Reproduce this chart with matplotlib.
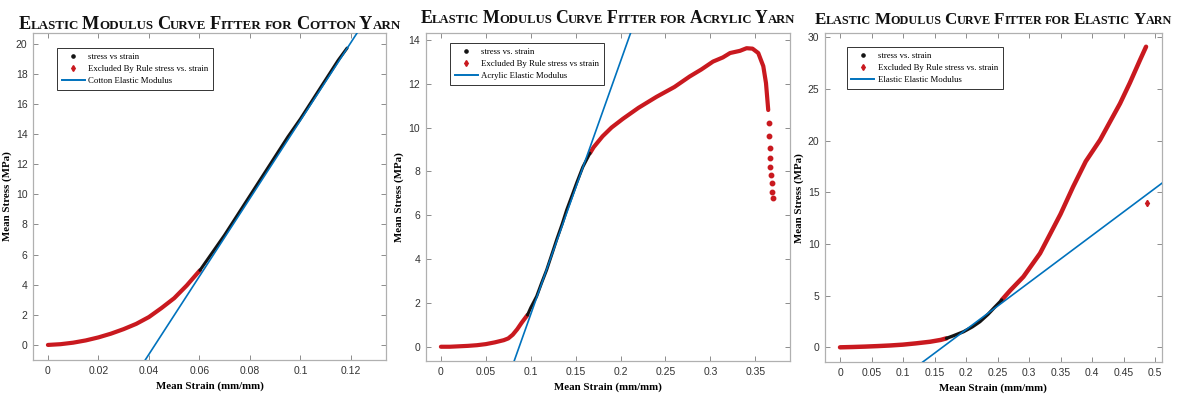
import matplotlib
matplotlib.use("Agg")
import matplotlib.pyplot as plt
from matplotlib.lines import Line2D
from matplotlib.offsetbox import TextArea, HPacker, AnnotationBbox
import numpy as np

# ---- cotton yarn ----
cotton_excl_x = [0.0, 0.005, 0.01, 0.015, 0.02, 0.025, 0.03, 0.035, 0.04, 0.045, 0.05, 0.055, 0.0602]
cotton_excl_y = [0.0, 0.05, 0.15, 0.3, 0.5, 0.75, 1.05, 1.4, 1.85, 2.45, 3.1, 3.95, 4.95]
cotton_fit_x = [0.0602, 0.065, 0.07, 0.075, 0.08, 0.085, 0.09, 0.095, 0.1, 0.105, 0.11, 0.115, 0.1185]
cotton_fit_y = [4.95, 6.1, 7.3, 8.6, 9.9, 11.2, 12.5, 13.8, 15.0, 16.3, 17.6, 18.9, 19.7]
cotton_E = 258.6        # MPa
cotton_x0 = 0.0424      # strain where fit line crosses zero

# ---- acrylic yarn ----
acrylic_excl_x = [0.0, 0.01, 0.02, 0.03, 0.04, 0.05, 0.06, 0.07, 0.075, 0.08, 0.085, 0.09, 0.0964]
acrylic_excl_y = [0.0, 0.0, 0.02, 0.04, 0.07, 0.12, 0.2, 0.3, 0.38, 0.55, 0.8, 1.1, 1.45]
acrylic_fit_x = [0.0964, 0.1, 0.1066, 0.112, 0.1177, 0.125, 0.129, 0.135, 0.14, 0.146, 0.151, 0.158, 0.166]
acrylic_fit_y = [1.45, 1.78, 2.3, 2.9, 3.5, 4.4, 4.9, 5.6, 6.24, 6.9, 7.46, 8.2, 8.83]
acrylic_post_x = [0.166, 0.17, 0.18, 0.19, 0.2027, 0.22, 0.24, 0.26, 0.277, 0.29, 0.303, 0.314,
                  0.322, 0.333, 0.3404, 0.347, 0.3534, 0.359, 0.362, 0.3645]
acrylic_post_y = [8.83, 9.1, 9.6, 10.0, 10.4, 10.9, 11.4, 11.85, 12.33, 12.65, 13.01, 13.2,
                  13.4, 13.5, 13.62, 13.6, 13.4, 12.8, 12.03, 10.8]
acrylic_tail_x = [0.3649, 0.3656, 0.3662, 0.3666, 0.367, 0.3677, 0.3682, 0.3686, 0.3694]
acrylic_tail_y = [10.23, 9.62, 9.06, 8.6, 8.22, 7.84, 7.46, 7.08, 6.78]
acrylic_E = 115.4
acrylic_x0 = 0.0872

# ---- elastic yarn ----
elastic_excl_x = [0.0, 0.02, 0.04, 0.06, 0.08, 0.1, 0.12, 0.143, 0.16, 0.169]
elastic_excl_y = [0.0, 0.03, 0.07, 0.12, 0.18, 0.26, 0.38, 0.54, 0.72, 0.87]
elastic_fit_x = [0.169, 0.18, 0.196, 0.21, 0.222, 0.235, 0.245, 0.2567]
elastic_fit_y = [0.87, 1.12, 1.51, 1.98, 2.48, 3.2, 3.85, 4.58]
elastic_post_x = [0.2567, 0.27, 0.291, 0.3175, 0.35, 0.37, 0.39, 0.4127, 0.43, 0.4444, 0.46, 0.476, 0.4857]
elastic_post_y = [4.58, 5.5, 6.83, 9.1, 12.9, 15.55, 18.0, 20.07, 22.0, 23.6, 25.6, 27.8, 29.1]
elastic_out_x = [0.4868]
elastic_out_y = [13.94]
elastic_E = 45.6
elastic_x0 = 0.1625

RED = "#c9191f"
BLACK = "#141414"
BLUE = "#0072BD"
SERIF = "Liberation Serif"
SANS = "Liberation Sans"


def smallcaps_title(ax, title, scale=1.0, dy=1.0):
    big, small = 13.2 * scale, 9.4 * scale
    parts = []
    for i, word in enumerate(title.split()):
        if i:
            parts.append(TextArea(" ", textprops=dict(fontsize=small, family=SERIF, weight="bold")))
        if word[0].isupper():
            parts.append(TextArea(word[0], textprops=dict(fontsize=big, family=SERIF, weight="bold", color="#111111")))
            rest = word[1:]
        else:
            rest = word
        if rest:
            parts.append(TextArea(rest.upper(), textprops=dict(fontsize=small, family=SERIF, weight="bold", color="#111111")))
    pack = HPacker(children=parts, align="baseline", pad=0, sep=0)
    ab = AnnotationBbox(pack, (0.5, 1.0), xycoords="axes fraction", xybox=(0, dy),
                        boxcoords="offset points", box_alignment=(0.5, 0.0),
                        frameon=False, annotation_clip=False)
    ax.add_artist(ab)


def style_axes(ax, xlim, ylim, xticks, yticks):
    ax.set_xlim(*xlim)
    ax.set_ylim(*ylim)
    ax.set_xticks(xticks)
    ax.set_yticks(yticks)
    ax.set_xticklabels(["%g" % t for t in xticks])
    ax.set_yticklabels(["%g" % t for t in yticks])
    for s in ax.spines.values():
        s.set_color("#b0b0b0")
        s.set_linewidth(0.9)
    ax.tick_params(direction="in", top=True, right=True, length=3.5, width=0.7,
                   color="#8c8c8c", labelsize=7.5, labelcolor="#333333", pad=4)
    for lab in ax.get_xticklabels() + ax.get_yticklabels():
        lab.set_family(SANS)
    ax.set_xlabel("Mean Strain (mm/mm)", family=SERIF, weight="bold", fontsize=7.8, labelpad=4)
    ax.set_ylabel("Mean Stress (MPa)", family=SERIF, weight="bold", fontsize=7.8, labelpad=3)


def add_legend(ax, labels, anchor):
    handles = [
        Line2D([], [], ls="none", marker="o", ms=2.3, color=BLACK),
        Line2D([], [], ls="none", marker="d", ms=3.0, color=RED),
        Line2D([], [], color=BLUE, lw=1.4),
    ]
    leg = ax.legend(handles, labels, loc="upper left", bbox_to_anchor=anchor,
                    prop=dict(family=SERIF, size=6.3), frameon=True, fancybox=False,
                    edgecolor="#333333", framealpha=1, handlelength=2.6,
                    borderpad=0.55, labelspacing=0.45, handletextpad=0.4,
                    borderaxespad=0)
    leg.get_frame().set_linewidth(0.7)


fig = plt.figure(figsize=(11.84, 3.96), dpi=100)
fig.patch.set_facecolor("white")

# cotton
ax1 = fig.add_axes([0.0279, 0.0909, 0.2981, 0.8258])
ax1.plot(cotton_excl_x, cotton_excl_y, color=RED, lw=3.0, solid_capstyle="round", zorder=2)
ax1.plot(cotton_fit_x, cotton_fit_y, color=BLACK, lw=2.2, solid_capstyle="round", zorder=3)
ax1.axline((cotton_x0, 0), slope=cotton_E, color=BLUE, lw=1.2, zorder=4)
style_axes(ax1, (-0.0059, 0.1339), (-1.0, 20.7), np.arange(0, 0.121, 0.02), np.arange(0, 21, 2))
add_legend(ax1, ["stress vs strain", "Excluded By Rule stress vs. strain", "Cotton Elastic Modulus"],
           (0.068, 0.954))
smallcaps_title(ax1, "Elastic Modulus Curve Fitter for Cotton Yarn", scale=1.0, dy=0.0)

# acrylic
ax2 = fig.add_axes([0.3595, 0.0884, 0.3077, 0.8275])
ax2.plot(acrylic_excl_x, acrylic_excl_y, color=RED, lw=3.0, solid_capstyle="round", zorder=2)
ax2.plot(acrylic_post_x, acrylic_post_y, color=RED, lw=3.0, solid_capstyle="round", zorder=2)
ax2.plot(acrylic_tail_x, acrylic_tail_y, ls="none", marker="o", ms=3.2, color=RED, zorder=2)
ax2.plot(acrylic_fit_x, acrylic_fit_y, color=BLACK, lw=2.2, solid_capstyle="round", zorder=3)
ax2.axline((acrylic_x0, 0), slope=acrylic_E, color=BLUE, lw=1.2, zorder=4)
style_axes(ax2, (-0.017, 0.3887), (-0.65, 14.3), np.arange(0, 0.351, 0.05), np.arange(0, 15, 2))
add_legend(ax2, ["stress vs. strain", "Excluded By Rule stress vs strain", "Acrylic Elastic Modulus"],
           (0.067, 0.97))
smallcaps_title(ax2, "Elastic Modulus Curve Fitter for Acrylic Yarn", scale=0.97, dy=4.5)

# elastic
ax3 = fig.add_axes([0.6968, 0.0851, 0.2844, 0.8308])
ax3.plot(elastic_excl_x, elastic_excl_y, color=RED, lw=3.2, solid_capstyle="round", zorder=2)
ax3.plot(elastic_post_x, elastic_post_y, color=RED, lw=3.2, solid_capstyle="round", zorder=2)
ax3.plot(elastic_out_x, elastic_out_y, ls="none", marker="d", ms=3.2, color=RED, zorder=2)
ax3.plot(elastic_fit_x, elastic_fit_y, color=BLACK, lw=2.4, solid_capstyle="round", zorder=3)
ax3.axline((elastic_x0, 0), slope=elastic_E, color=BLUE, lw=1.2, zorder=4)
style_axes(ax3, (-0.0238, 0.5106), (-1.45, 30.4), np.arange(0, 0.501, 0.05), np.arange(0, 31, 5))
add_legend(ax3, ["stress vs. strain", "Excluded By Rule stress vs. strain", "Elastic Elastic Modulus"],
           (0.064, 0.959))
smallcaps_title(ax3, "Elastic Modulus Curve Fitter for Elastic Yarn", scale=0.93, dy=3.5)

fig.savefig("out.png", dpi=100)
